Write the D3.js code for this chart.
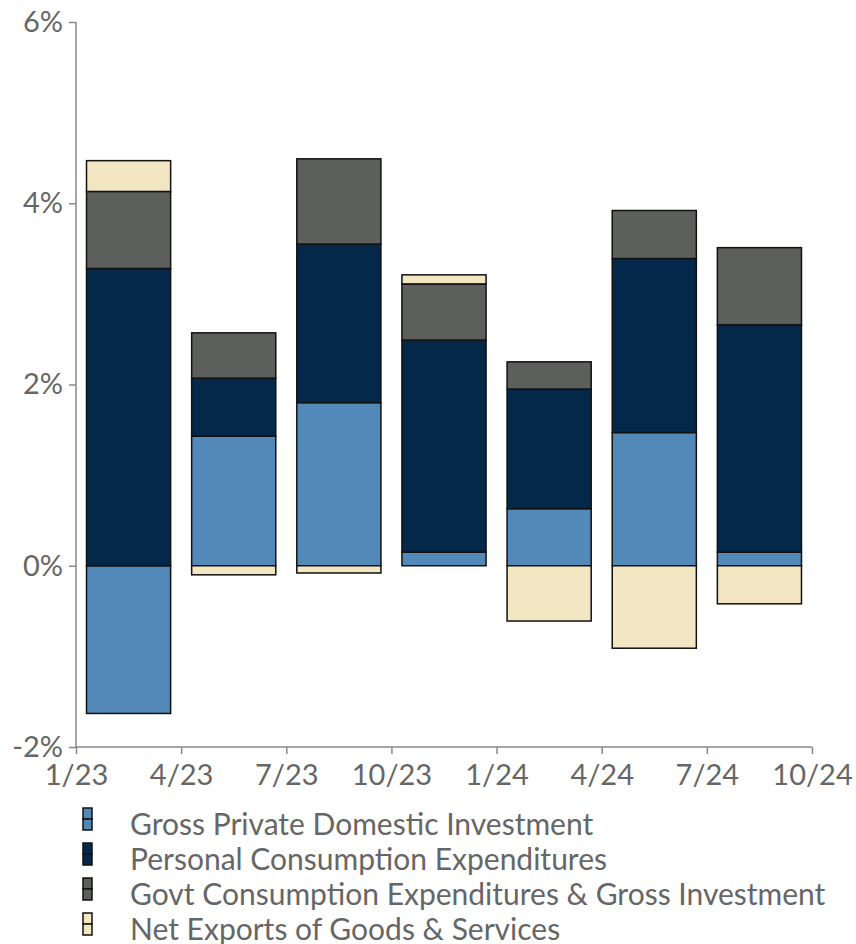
<!DOCTYPE html>
<html>
<head>
<meta charset="utf-8">
<script src="https://cdn.jsdelivr.net/npm/d3@7"></script>
<style>
  body { margin: 0; background: #fff; }
  text { font-family: Lato, "Open Sans", sans-serif; fill: #666; }
</style>
</head>
<body>
<div id="chart"></div>
<script>
// quarters (bars) and axis tick labels
var quarters = ["Q1 23", "Q2 23", "Q3 23", "Q4 23", "Q1 24", "Q2 24", "Q3 24"];
var tickLabels = ["1/23", "4/23", "7/23", "10/23", "1/24", "4/24", "7/24", "10/24"];

// contributions to GDP growth, percentage points
var gpdi   = [-1.63, 1.43, 1.80, 0.15, 0.63, 1.47, 0.15];
var pce    = [ 3.28, 0.64, 1.75, 2.34, 1.32, 1.92, 2.51];
var govt   = [ 0.85, 0.50, 0.94, 0.62, 0.30, 0.53, 0.85];
var netExp = [ 0.34, -0.10, -0.08, 0.10, -0.61, -0.91, -0.42];

var seriesNames = [
  "Gross Private Domestic Investment",
  "Personal Consumption Expenditures",
  "Govt Consumption Expenditures & Gross Investment",
  "Net Exports of Goods & Services"
];
var colors = ["#5389b8", "#03284a", "#5d5f5c", "#f2e6c3"];

var width = 856, height = 944;
var x0 = 76, x1 = 812, yTop = 22, yBot = 747;

// build table for d3.stack
var keys = ["gpdi", "pce", "govt", "netExp"];
var table = quarters.map(function(q, i) {
  return { q: q, gpdi: gpdi[i], pce: pce[i], govt: govt[i], netExp: netExp[i] };
});

var stacked = d3.stack()
    .keys(keys)
    .offset(d3.stackOffsetDiverging)(table);

var x = d3.scaleBand().domain(quarters).range([x0, x1])
    .paddingInner(0.2).paddingOuter(0.1);
var xt = d3.scalePoint().domain(tickLabels).range([x0, x1]);
var y = d3.scaleLinear().domain([-2, 6]).range([yBot, yTop]);

var svg = d3.select("#chart").append("svg")
    .attr("width", width)
    .attr("height", height);

// bars
svg.selectAll("g.series")
    .data(stacked)
    .enter().append("g")
    .attr("class", "series")
    .style("fill", function(d, i) { return colors[i]; })
    .selectAll("rect")
    .data(function(d) { return d; })
    .enter().append("rect")
    .attr("x", function(d) { return x(d.data.q); })
    .attr("width", x.bandwidth())
    .attr("y", function(d) { return y(Math.max(d[0], d[1])); })
    .attr("height", function(d) { return Math.abs(y(d[0]) - y(d[1])); })
    .style("stroke", "#111")
    .style("stroke-width", 1.5);

// y axis
var yAxis = svg.append("g")
    .attr("transform", "translate(" + x0 + ",0)")
    .call(d3.axisLeft(y).tickValues([-2, 0, 2, 4, 6])
        .tickSize(7).tickPadding(6)
        .tickFormat(function(d) { return d + "%"; }));

// x axis at the bottom
var xAxis = svg.append("g")
    .attr("transform", "translate(0," + yBot + ")")
    .call(d3.axisBottom(xt).tickSize(7).tickPadding(10));

[yAxis, xAxis].forEach(function(ax) {
  ax.select(".domain").attr("stroke", "#888").attr("stroke-width", 1.5);
  ax.selectAll(".tick line").attr("stroke", "#888").attr("stroke-width", 1.5);
  ax.selectAll(".tick text")
      .style("font-size", "29px")
      .style("font-family", "Lato, sans-serif")
      .attr("fill", "#666");
});
// remove outer tick stubs that d3 draws on the domain path
yAxis.select(".domain").attr("d", "M0," + yTop + "V" + yBot);
xAxis.select(".domain").attr("d", "M" + x0 + ",0H" + x1);

// legend
var legend = svg.append("g")
    .selectAll("g")
    .data(seriesNames)
    .enter().append("g")
    .attr("transform", function(d, i) { return "translate(0," + (808 + i * 35) + ")"; });

legend.append("rect")
    .attr("x", 83).attr("y", 0)
    .attr("width", 9).attr("height", 11)
    .style("fill", function(d, i) { return colors[i]; })
    .style("stroke", "#111").style("stroke-width", 1.5);
legend.append("rect")
    .attr("x", 83).attr("y", 11)
    .attr("width", 9).attr("height", 11)
    .style("fill", function(d, i) { return colors[i]; })
    .style("stroke", "#111").style("stroke-width", 1.5);

legend.append("text")
    .attr("x", 130)
    .attr("y", 16)
    .attr("dy", "0.35em")
    .style("font-size", "30px")
    .text(function(d) { return d; });
</script>
</body>
</html>
